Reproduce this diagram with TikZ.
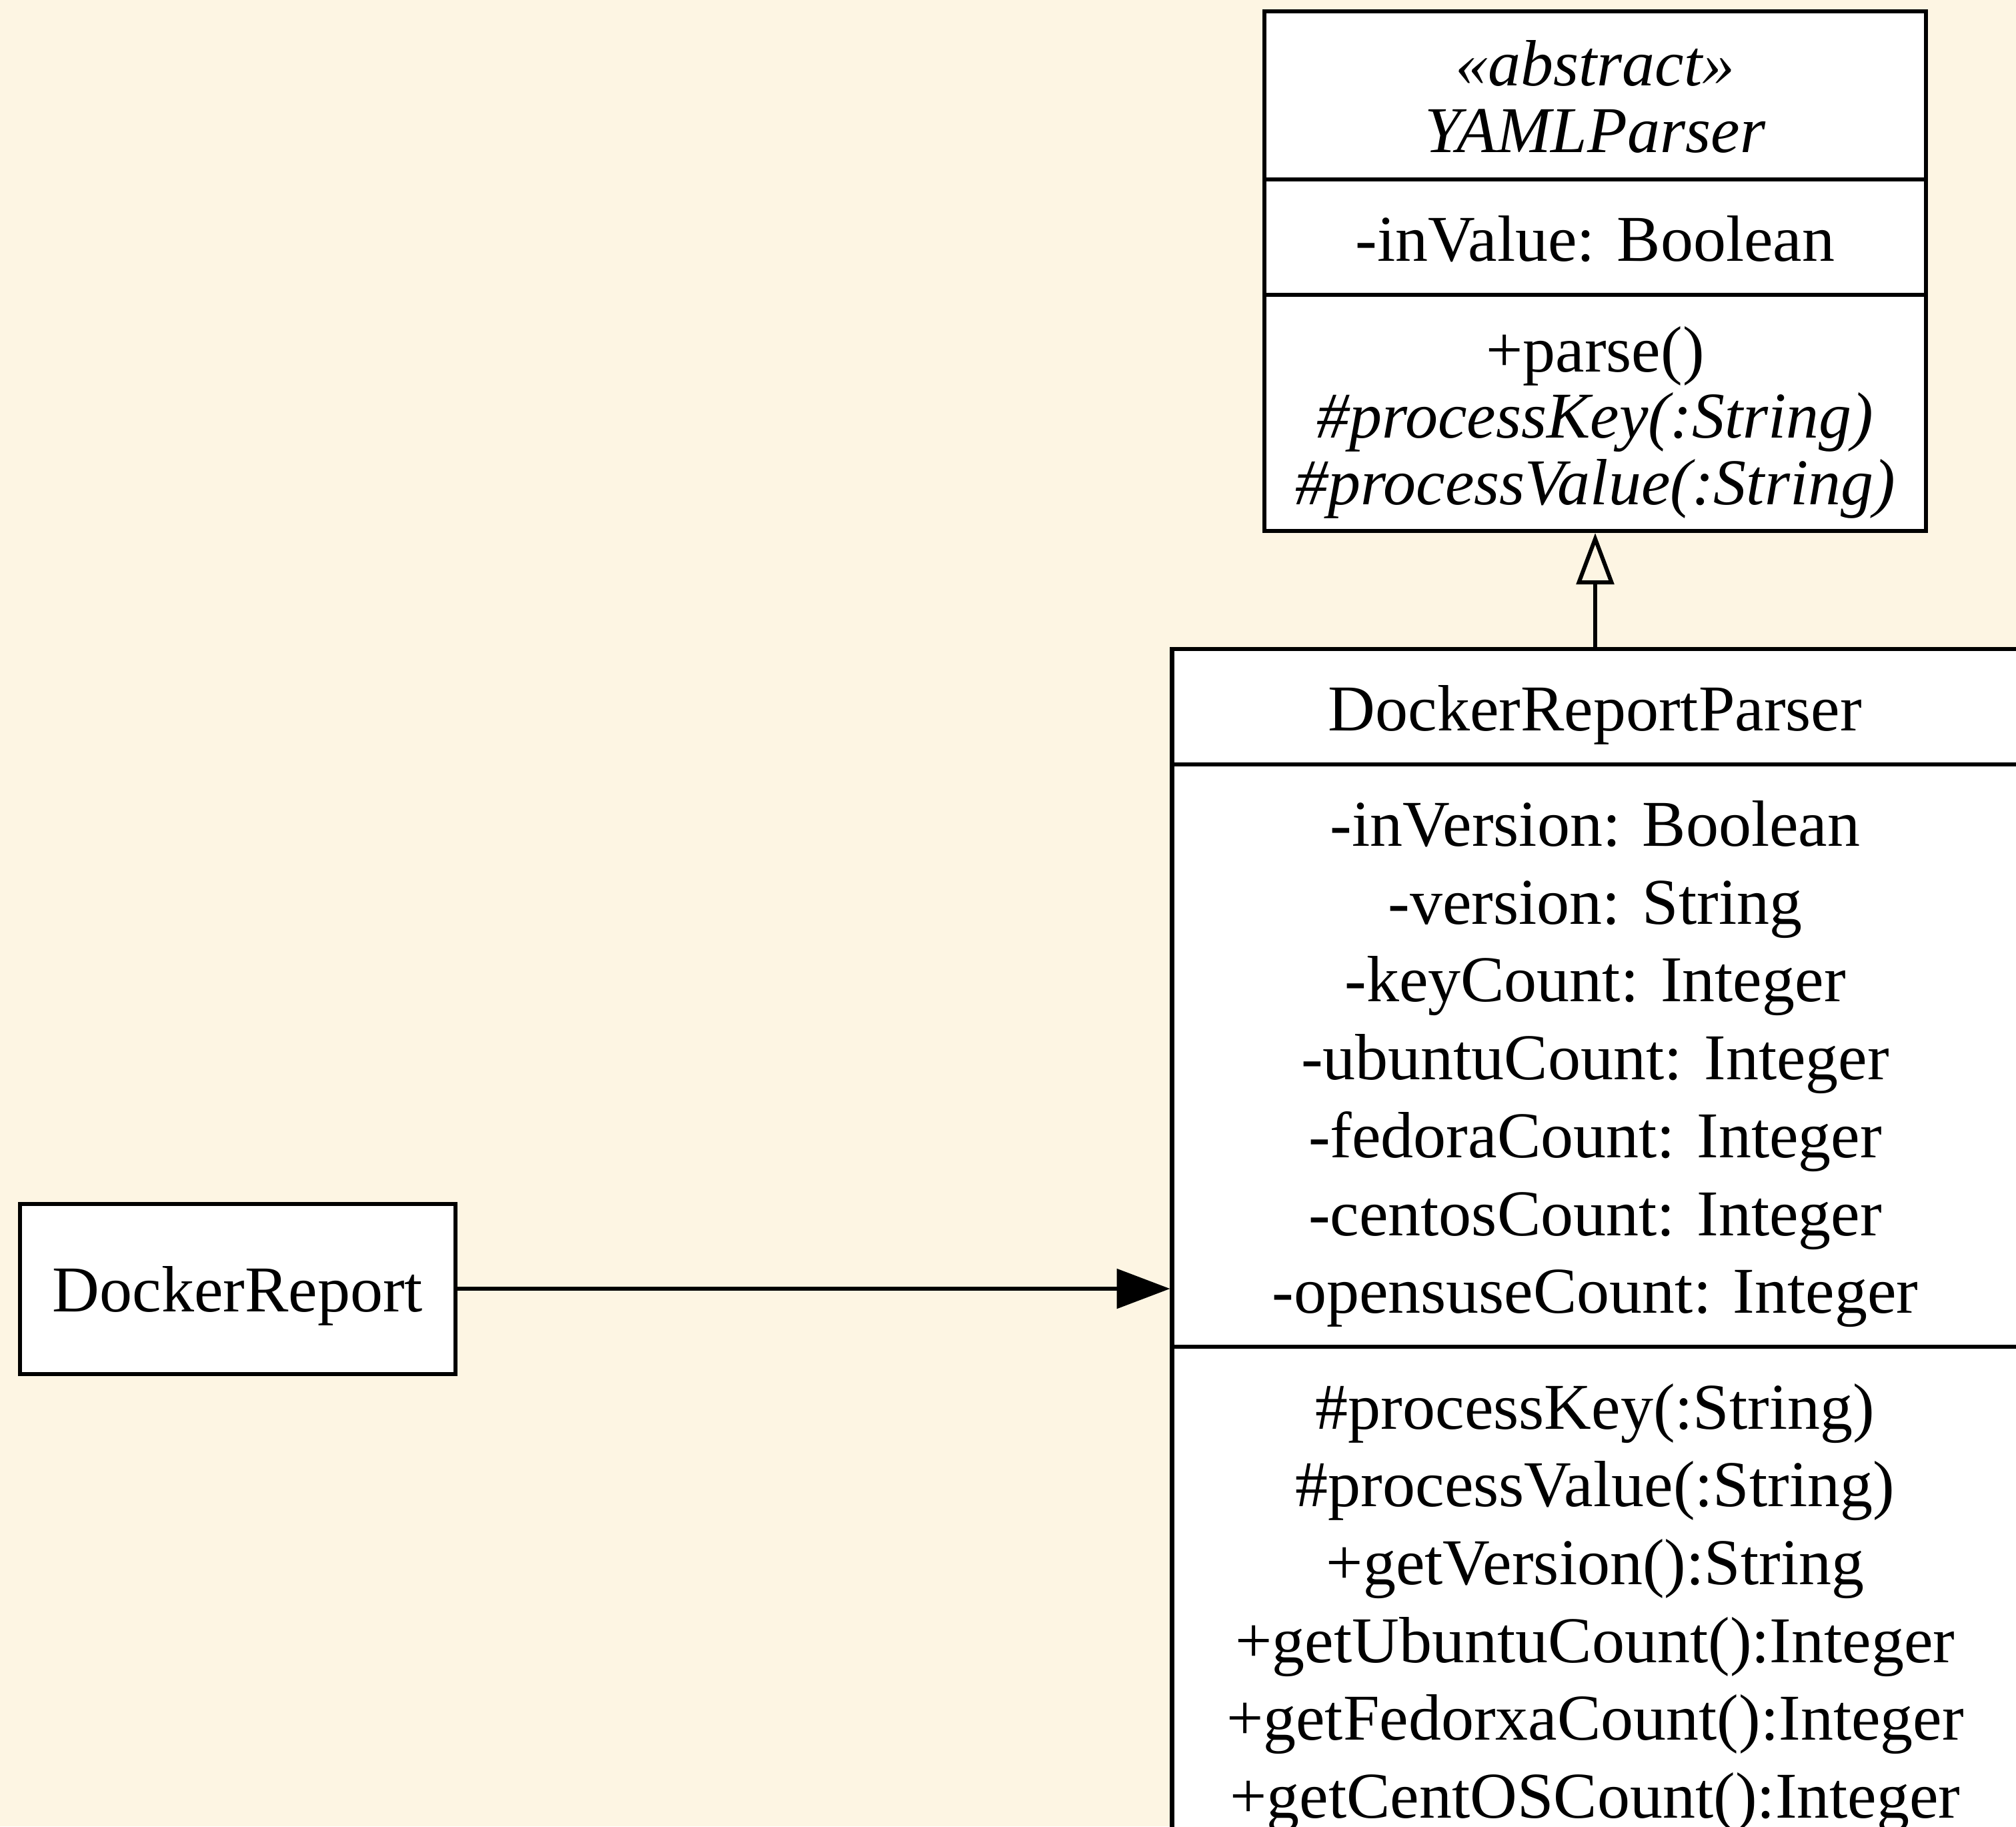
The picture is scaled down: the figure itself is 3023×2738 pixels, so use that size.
\documentclass[tikz,border=0pt]{standalone}
\usepackage{fontspec}
\setmainfont{Liberation Serif}
\usetikzlibrary{arrows.meta}
\definecolor{paper}{RGB}{253,245,227}

\tikzset{
	classbox/.style={draw=black, fill=white, line width=0.86pt, inner sep=0pt},
	member/.style={anchor=base, inner sep=0pt, font=\fontsize{14}{16}\selectfont},
	divider/.style={line width=0.86pt},
	assoc/.style={line width=0.86pt, -{Triangle[length=11.4pt, width=8.4pt]}},
	inherit/.style={line width=0.86pt, -{Triangle[open, length=11pt, width=8pt]}}
}

\begin{document}
\begin{tikzpicture}[x=0.142857pt, y=-0.142857pt]
			%%%%% START %%%%%
			
			\fill[paper] (0, 0) rectangle (3023, 2738);
			\useasboundingbox (0, 0) rectangle (3023, 2738);
			\clip (0, 0) rectangle (3023, 2738);
			
			% YAMLParser
			\node[classbox, minimum width=141.71pt, minimum height=111.29pt] (yaml) at (2392, 406.5) {};
			\draw[divider] (1896, 269) -- (2888, 269);
			\draw[divider] (1896, 442) -- (2888, 442);
			\node[member] (yaml-stereo) at (2392, 128) {\textit{«abstract»}};
			\node[member] (yaml-name) at (2392, 229) {\textit{YAMLParser}};
			\node[member] (yaml-invalue) at (2392, 391) {-inValue: Boolean};
			\node[member] (yaml-parse) at (2392, 557) {+parse()};
			\node[member] (yaml-key) at (2392, 656) {\textit{\#processKey(:String)}};
			\node[member] (yaml-value) at (2392, 756) {\textit{\#processValue(:String)}};
			
			% DockerReportParser
			\node[classbox, minimum width=181.29pt, minimum height=274pt] (parser) at (2392, 1932) {};
			\draw[divider] (1758, 1146) -- (3030, 1146);
			\draw[divider] (1758, 2019) -- (3030, 2019);
			\node[member] (parser-name) at (2392, 1095) {DockerReportParser};
			\node[member] (parser-inversion) at (2392, 1268) {-inVersion: Boolean};
			\node[member] (parser-version) at (2392, 1385) {-version: String};
			\node[member] (parser-keycount) at (2392, 1501) {-keyCount: Integer};
			\node[member] (parser-ubuntu) at (2392, 1618) {-ubuntuCount: Integer};
			\node[member] (parser-fedora) at (2392, 1735) {-fedoraCount: Integer};
			\node[member] (parser-centos) at (2392, 1852) {-centosCount: Integer};
			\node[member] (parser-opensuse) at (2392, 1968) {-opensuseCount: Integer};
			\node[member] (parser-key) at (2392, 2142) {\#processKey(:String)};
			\node[member] (parser-value) at (2392, 2258) {\#processValue(:String)};
			\node[member] (parser-getversion) at (2392, 2375) {+getVersion():String};
			\node[member] (parser-getubuntu) at (2392, 2492) {+getUbuntuCount():Integer};
			\node[member] (parser-getfedora) at (2392, 2608) {+getFedorxaCount():Integer};
			\node[member] (parser-getcentos) at (2392, 2725) {+getCentOSCount():Integer};
			
			% DockerReport
			\node[classbox, minimum width=93.29pt, minimum height=36.43pt] (report) at (356.5, 1932) {};
			\node[member] (report-name) at (356.5, 1966) {DockerReport};
			
			% edges
			\draw[inherit] (parser.north) -- (yaml.south);
			\draw[assoc] (report.east) -- (parser.west);
			
			%%%%% END %%%%%
\end{tikzpicture}
\end{document}
